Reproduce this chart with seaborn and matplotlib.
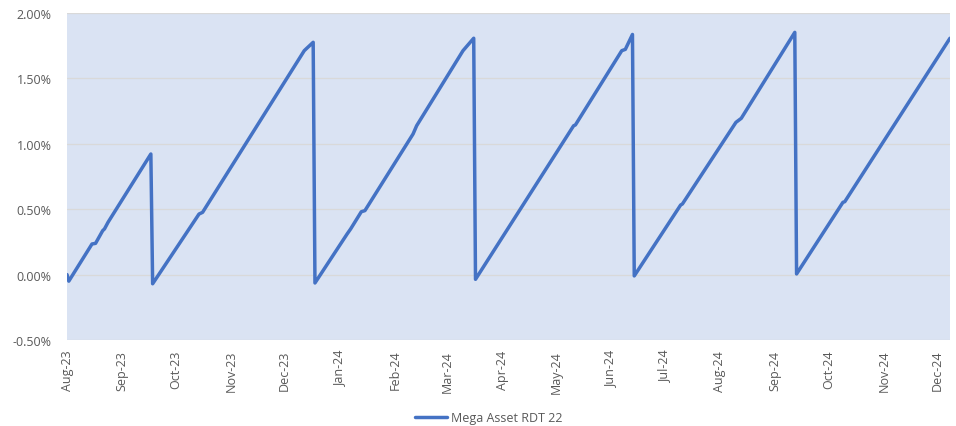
import matplotlib
matplotlib.use("Agg")
import matplotlib.pyplot as plt
import matplotlib.dates as mdates
from matplotlib.ticker import PercentFormatter
import seaborn as sns
import pandas as pd

# Turning points of the series
dates = [
    "2023-08-01", "2023-08-02", "2023-08-15", "2023-08-17", "2023-08-21", "2023-08-22", "2023-08-24",
    "2023-09-17", "2023-09-18", "2023-10-14", "2023-10-16",
    "2023-12-12", "2023-12-13", "2023-12-17", "2023-12-18",
    "2024-01-05", "2024-01-07", "2024-01-13", "2024-01-15", "2024-02-11", "2024-02-13",
    "2024-03-10", "2024-03-16", "2024-03-17", "2024-05-11", "2024-05-12",
    "2024-06-07", "2024-06-09", "2024-06-13", "2024-06-14",
    "2024-07-10", "2024-07-11", "2024-08-10", "2024-08-13",
    "2024-09-12", "2024-09-13", "2024-10-09", "2024-10-10", "2024-12-08",
]
values = [
    0.00, -0.05, 0.234, 0.239, 0.336, 0.349, 0.40,
    0.922, -0.07, 0.463, 0.476,
    1.712, 1.725, 1.776, -0.064,
    0.31, 0.349, 0.481, 0.489, 1.075, 1.138,
    1.712, 1.807, -0.036, 1.138, 1.144,
    1.712, 1.722, 1.836, -0.01,
    0.532, 0.54, 1.164, 1.195,
    1.852, 0.005, 0.553, 0.557, 1.807,
]
series_name = "Mega Asset RDT 22"
y_ticks = [-0.5, 0.0, 0.5, 1.0, 1.5, 2.0]

df = pd.DataFrame({"Date": pd.to_datetime(dates), "Value": values, "Series": series_name})

sns.set_style("white")
plt.rcParams["font.family"] = ["Open Sans", "DejaVu Sans"]
plt.rcParams["axes.unicode_minus"] = False

fig = plt.figure(figsize=(9.56, 4.27), dpi=100)
ax = fig.add_axes([0.0701, 0.2014, 0.9236, 0.7658])
ax.set_facecolor("#DAE3F3")

sns.lineplot(data=df, x="Date", y="Value", hue="Series", palette=["#4472C4"],
             linewidth=2.5, ax=ax)

ax.set_ylim(-0.5, 2.0)
ax.set_yticks(y_ticks)
ax.yaxis.set_major_formatter(PercentFormatter(xmax=100, decimals=2))
ax.set_xlim(df["Date"].min(), df["Date"].max())
ax.xaxis.set_major_locator(mdates.MonthLocator())
ax.xaxis.set_major_formatter(mdates.DateFormatter("%b-%y"))
plt.setp(ax.get_xticklabels(), rotation=90, ha="center")

ax.grid(axis="y", color="#D9D9D9", linewidth=0.9)
ax.set_axisbelow(True)
for s in ax.spines.values():
    s.set_visible(False)
ax.tick_params(axis="both", length=0, labelsize=9, labelcolor="#595959")
ax.tick_params(axis="y", pad=11)
ax.tick_params(axis="x", pad=7)
ax.set_xlabel("")
ax.set_ylabel("")

ax.legend(loc="center", bbox_to_anchor=(0.511, 0.02), bbox_transform=fig.transFigure,
          frameon=False, fontsize=9, handlelength=2.6, handletextpad=0.25,
          labelcolor="#595959", borderaxespad=0)

fig.savefig("out.png", dpi=100)
